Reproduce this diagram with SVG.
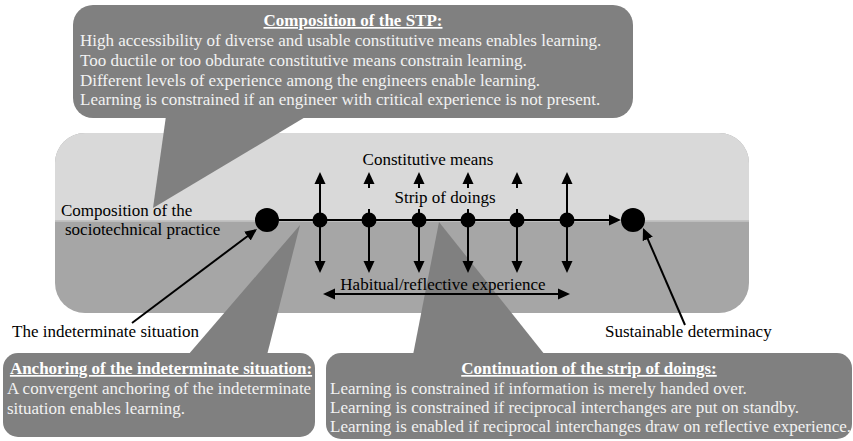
<svg xmlns="http://www.w3.org/2000/svg" width="853" height="441" viewBox="0 0 853 441">
<style>
text{font-family:"Liberation Serif","Times New Roman",serif;font-size:17px;fill:#000}
.w{fill:#f2f2f2}
.t{fill:#ffffff;font-weight:bold;text-decoration:underline}
.call{fill:#808080}
.ln{stroke:#000;stroke-width:2;fill:none}
</style>
<defs>
<marker id="ah" viewBox="0 0 12 12" refX="10" refY="6" markerWidth="12" markerHeight="12" orient="auto-start-reverse" markerUnits="userSpaceOnUse"><path d="M0,0.5 L12,6 L0,11.5 z" fill="#000"/></marker>
</defs>
<g id="background">
<rect x="55" y="133" width="694" height="180" rx="30" fill="#a6a6a6"/>
<path d="M55,220.5 V163 A30,30 0 0 1 85,133 H719 A30,30 0 0 1 749,163 V220.5 Z" fill="#d9d9d9"/>
<line x1="55" y1="221" x2="749" y2="221" stroke="#c4c4c4" stroke-width="1.5"/>
</g>
<g id="callout-stp">
<rect class="call" x="73" y="5" width="560" height="113" rx="20"/>
<polygon class="call" points="166,116 307,116 153,208"/>
<text class="t" x="353" y="26" text-anchor="middle">Composition of the STP:</text>
<text class="w" x="80" y="46">High accessibility of diverse and usable constitutive means enables learning.</text>
<text class="w" x="80" y="66">Too ductile or too obdurate constitutive means constrain learning.</text>
<text class="w" x="80" y="86">Different levels of experience among the engineers enable learning.</text>
<text class="w" x="80" y="105">Learning is constrained if an engineer with critical experience is not present.</text>
</g>
<g id="callout-anchoring">
<rect class="call" x="3" y="353" width="312" height="84" rx="15"/>
<polygon class="call" points="188,355 267,355 300,225"/>
<text class="t" x="161" y="374" text-anchor="middle">Anchoring of the indeterminate situation:</text>
<text class="w" x="7" y="394">A convergent anchoring of the indeterminate</text>
<text class="w" x="7" y="414">situation enables learning.</text>
</g>
<g id="callout-continuation">
<rect class="call" x="326" y="353" width="526" height="86" rx="15"/>
<polygon class="call" points="413,355 545,355 439,222"/>
<text class="t" x="589" y="374" text-anchor="middle">Continuation of the strip of doings:</text>
<text class="w" x="330" y="394">Learning is constrained if information is merely handed over.</text>
<text class="w" x="330" y="413">Learning is constrained if reciprocal interchanges are put on standby.</text>
<text class="w" x="330" y="432">Learning is enabled if reciprocal interchanges draw on reflective experience.</text>
</g>
<g id="connectors">
<line class="ln" x1="279" y1="220" x2="619" y2="220" marker-end="url(#ah)"/>
<line class="ln" x1="320" y1="220" x2="320" y2="174" marker-end="url(#ah)"/>
<line class="ln" x1="369" y1="220" x2="369" y2="174" marker-end="url(#ah)"/>
<line class="ln" x1="419" y1="220" x2="419" y2="174" marker-end="url(#ah)"/>
<line class="ln" x1="468" y1="220" x2="468" y2="174" marker-end="url(#ah)"/>
<line class="ln" x1="517" y1="220" x2="517" y2="174" marker-end="url(#ah)"/>
<line class="ln" x1="567" y1="220" x2="567" y2="174" marker-end="url(#ah)"/>
<line class="ln" x1="320" y1="220" x2="320" y2="271" marker-end="url(#ah)"/>
<line class="ln" x1="369" y1="220" x2="369" y2="271" marker-end="url(#ah)"/>
<line class="ln" x1="419" y1="220" x2="419" y2="271" marker-end="url(#ah)"/>
<line class="ln" x1="468" y1="220" x2="468" y2="271" marker-end="url(#ah)"/>
<line class="ln" x1="517" y1="220" x2="517" y2="271" marker-end="url(#ah)"/>
<line class="ln" x1="567" y1="220" x2="567" y2="271" marker-end="url(#ah)"/>
<line class="ln" x1="325" y1="294" x2="568" y2="294" marker-start="url(#ah)" marker-end="url(#ah)"/>
<line class="ln" x1="132" y1="323" x2="255.4" y2="230.2" marker-end="url(#ah)"/>
<line class="ln" x1="685" y1="325" x2="643.8" y2="229.8" marker-end="url(#ah)"/>
</g>
<g id="strip-label">
<rect x="340" y="188" width="208" height="21" fill="#d9d9d9"/>
<text x="445" y="203" text-anchor="middle">Strip of doings</text>
</g>
<g id="constitutive-label"><text x="428" y="165" text-anchor="middle">Constitutive means</text></g>
<g id="habitual-label"><text x="443" y="290" text-anchor="middle">Habitual/reflective experience</text></g>
<g id="start-node"><circle cx="267" cy="220" r="12" fill="#000"/></g>
<g id="end-node"><circle cx="633" cy="220" r="12" fill="#000"/></g>
<g id="doings">
<circle cx="320" cy="220" r="7.5"/>
<circle cx="369" cy="220" r="7.5"/>
<circle cx="419" cy="220" r="7.5"/>
<circle cx="468" cy="220" r="7.5"/>
<circle cx="517" cy="220" r="7.5"/>
<circle cx="567" cy="220" r="7.5"/>
</g>
<g id="stp-label">
<text x="61" y="216">Composition of the</text>
<text x="65" y="235">sociotechnical practice</text>
</g>
<g id="indeterminate-label"><text x="12" y="337">The indeterminate situation</text></g>
<g id="determinacy-label"><text x="605" y="337">Sustainable determinacy</text></g>
</svg>
